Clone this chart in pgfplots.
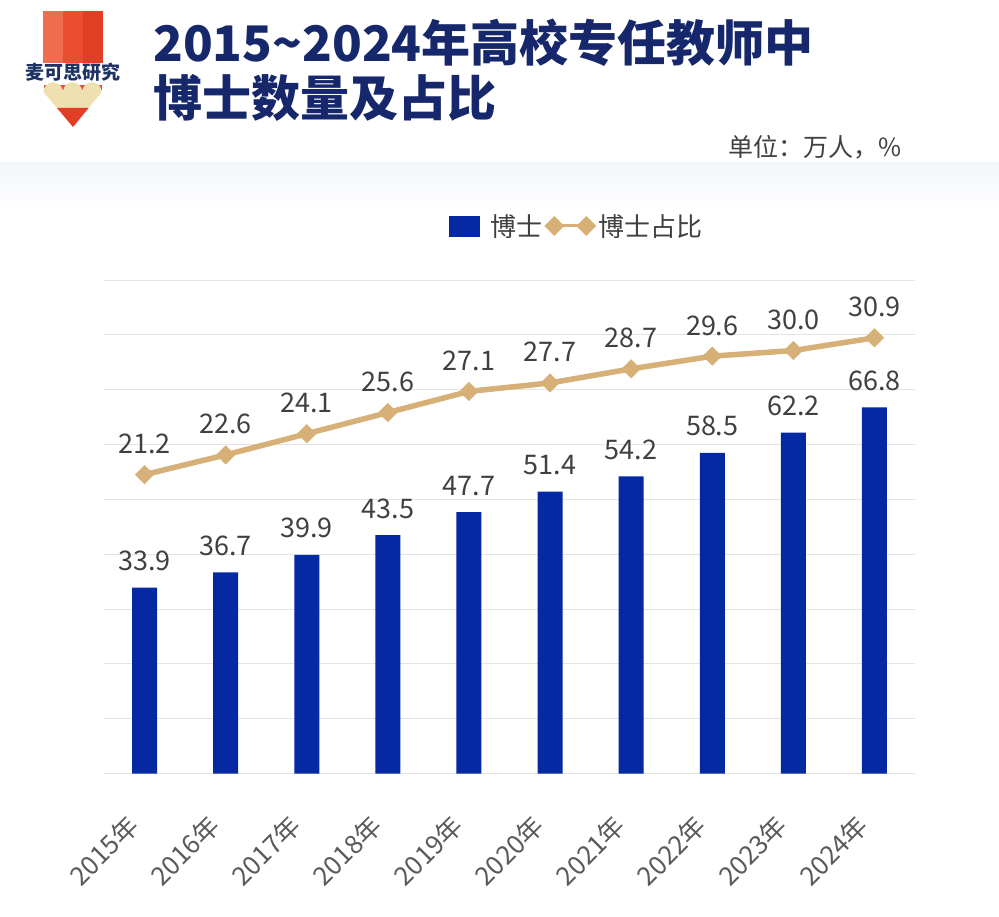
\documentclass[border=0pt]{standalone}
\usepackage{fontspec}
\setmainfont{Noto Sans CJK SC}
\usepackage{pgfplots}
\pgfplotsset{compat=1.18}
\definecolor{barblue}{RGB}{5,41,163}
\definecolor{gold}{RGB}{214,176,118}
\definecolor{lblgray}{RGB}{64,64,64}
\definecolor{tickgray}{RGB}{90,90,90}
\definecolor{navy}{RGB}{22,40,107}
\definecolor{gridgray}{RGB}{228,228,228}
\definecolor{logoA}{RGB}{240,108,78}
\definecolor{logoB}{RGB}{235,78,47}
\definecolor{logoC}{RGB}{226,62,38}
\definecolor{beige}{RGB}{239,224,178}
\definecolor{logonavy}{RGB}{30,50,100}
\begin{document}
\begin{tikzpicture}
\useasboundingbox (0,0) rectangle (999bp,917bp);
\fill[white] (0,0) rectangle (999bp,917bp);
\shade[top color={rgb,255:red,242;green,245;blue,250}, bottom color=white] (0bp,754bp) rectangle (999bp,707bp);
% logo
\fill[logoA] (43bp,906bp) rectangle (63bp,854bp);
\fill[logoB] (63bp,906bp) rectangle (83bp,854bp);
\fill[logoC] (83bp,906bp) rectangle (103bp,854bp);
\fill[logoB] (44bp,827bp) rectangle (102bp,832bp);
\fill[beige] (43.5bp,825bp) arc[start angle=180,end angle=0,radius=9.7bp] arc[start angle=180,end angle=0,radius=9.7bp] arc[start angle=180,end angle=0,radius=9.7bp] -- (73bp,790bp) -- cycle;
\fill[logoC] (57bp,809bp) -- (88.6bp,809bp) -- (73bp,790bp) -- cycle;
\node[inner sep=0pt, font=\bfseries\fontsize{19bp}{22bp}\selectfont, text=logonavy] at (73bp,844.5bp) {麦可思研究};
% title
\node[anchor=base west, inner sep=0pt, font=\bfseries\fontsize{49bp}{60bp}\selectfont, text=navy] at (153bp,855bp) {2015\textasciitilde2024年高校专任教师中};
\node[anchor=base west, inner sep=0pt, font=\bfseries\fontsize{49bp}{60bp}\selectfont, text=navy] at (153bp,800bp) {博士数量及占比};
\node[anchor=base east, inner sep=0pt, font=\fontsize{25bp}{30bp}\selectfont, text=lblgray] at (902bp,760bp) {单位：万人，\%};
% bars
\begin{axis}[
  at={(104bp,143.3bp)}, anchor=south west,
  scale only axis, width=811bp, height=493.7bp,
  xmin=-0.5, xmax=9.5, ymin=0, ymax=90,
  ybar, bar width=25bp,
  axis line style={draw=none}, tick style={draw=none},
  ytick={0,10,...,90}, yticklabels={},
  ymajorgrids, grid style={gridgray, line width=1bp},
  xtick={0,...,9},
  xticklabels={2015年,2016年,2017年,2018年,2019年,2020年,2021年,2022年,2023年,2024年},
  xticklabel style={font=\fontsize{26bp}{30bp}\selectfont, text=tickgray, inner sep=0pt, xshift=-11bp, yshift=-43bp, rotate=45, anchor=east},
  clip=false,
  /pgf/number format/.cd, fixed, fixed zerofill, precision=1, assume math mode=true,
]
\addplot[fill=barblue, draw=none, nodes near coords,
  nodes near coords style={anchor=base, inner sep=0pt, yshift=17bp, font=\fontsize{27bp}{30bp}\selectfont, text=lblgray}]
  coordinates {(0,33.9) (1,36.7) (2,39.9) (3,43.5) (4,47.7) (5,51.4) (6,54.2) (7,58.5) (8,62.2) (9,66.8)};
\end{axis}
% line
\begin{axis}[
  at={(104bp,143.3bp)}, anchor=south west,
  scale only axis, width=811bp, height=493.7bp,
  xmin=-0.5, xmax=9.5, ymin=0, ymax=35,
  hide axis, clip=false,
  /pgf/number format/.cd, fixed, fixed zerofill, precision=1, assume math mode=true,
  /pgfplots/.cd,
  legend columns=-1,
  legend style={at={(rel axis cs:0.4254,1.1094)}, anchor=west, draw=none, fill=none, inner sep=0pt,
    font=\fontsize{26bp}{30bp}\selectfont, text=lblgray, nodes={inner sep=0pt},
    /tikz/every even column/.append style={column sep=3bp}},
]
\addlegendimage{legend image code/.code={\fill[barblue] (0bp,-10bp) rectangle (30bp,10bp); \path (41bp,0bp);}}
\addlegendentry{博士}
\addplot[gold, line width=5.5bp, mark=square*, mark size=6.5bp, mark options={rotate=45, line width=0.5bp, fill=gold},
  nodes near coords,
  nodes near coords style={anchor=base, inner sep=0pt, yshift=21bp, font=\fontsize{27bp}{30bp}\selectfont, text=lblgray},
  legend image code/.code={\draw[gold, line width=3bp] (6bp,0bp) -- (38bp,0bp);
    \fill[gold] (0bp,0bp) -- (6bp,6bp) -- (12bp,0bp) -- (6bp,-6bp) -- cycle;
    \fill[gold] (32bp,0bp) -- (38bp,6bp) -- (44bp,0bp) -- (38bp,-6bp) -- cycle;
    \path (47bp,0bp);}]
  coordinates {(0,21.2) (1,22.6) (2,24.1) (3,25.6) (4,27.1) (5,27.7) (6,28.7) (7,29.6) (8,30.0) (9,30.9)};
\addlegendentry{博士占比}
\end{axis}
\end{tikzpicture}
\end{document}
